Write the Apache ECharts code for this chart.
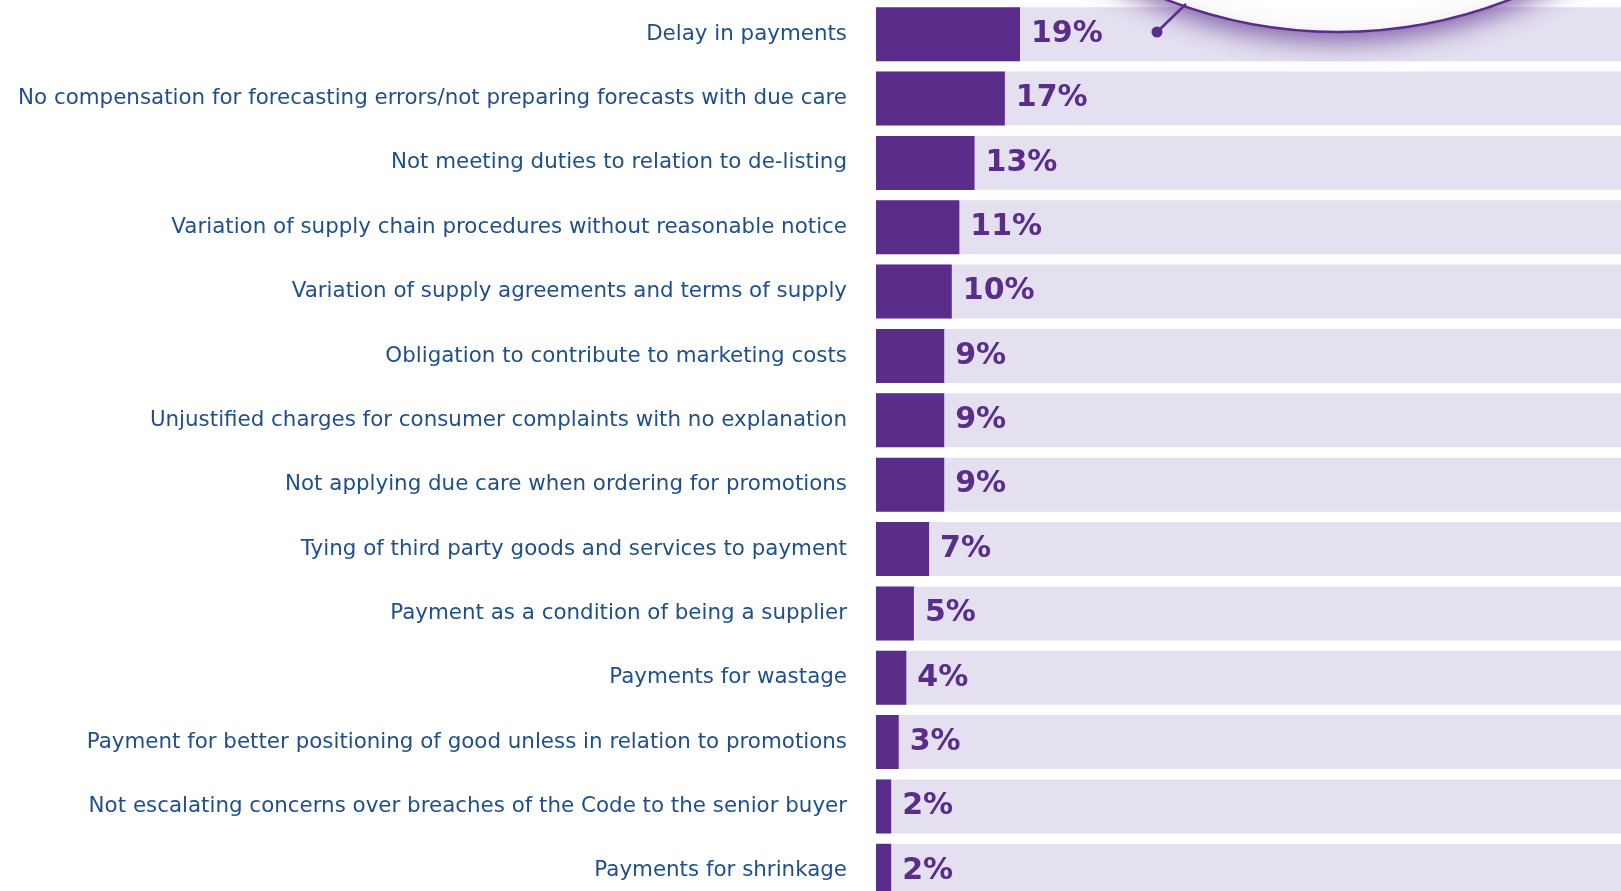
<!DOCTYPE html>
<html>
<head>
<meta charset="utf-8">
<script src="https://cdn.jsdelivr.net/npm/echarts@6/dist/echarts.min.js"></script>
<style>
  html, body { margin: 0; padding: 0; background: #fff; }
  #chart { width: 1621px; height: 891px; }
</style>
</head>
<body>
<div id="chart"></div>
<script>
var categories = [
  'Delay in payments',
  'No compensation for forecasting errors/not preparing forecasts with due care',
  'Not meeting duties to relation to de-listing',
  'Variation of supply chain procedures without reasonable notice',
  'Variation of supply agreements and terms of supply',
  'Obligation to contribute to marketing costs',
  'Unjustified charges for consumer complaints with no explanation',
  'Not applying due care when ordering for promotions',
  'Tying of third party goods and services to payment',
  'Payment as a condition of being a supplier',
  'Payments for wastage',
  'Payment for better positioning of good unless in relation to promotions',
  'Not escalating concerns over breaches of the Code to the senior buyer',
  'Payments for shrinkage'
];
var values = [19, 17, 13, 11, 10, 9, 9, 9, 7, 5, 4, 3, 2, 2];

var purple = '#5a2d8b';

var chart = echarts.init(document.getElementById('chart'));

chart.setOption({
  backgroundColor: '#ffffff',
  animation: false,
  grid: {
    left: 876, right: 0, top: 2, height: 901,
    containLabel: false,
    outerBoundsMode: 'none'
  },
  xAxis: {
    type: 'value',
    min: 0,
    max: 98.3,
    show: false
  },
  yAxis: {
    type: 'category',
    data: categories,
    inverse: true,
    axisLine: { show: false },
    axisTick: { show: false },
    axisLabel: {
      margin: 29,
      color: '#1f4f8c',
      fontFamily: 'DejaVu Sans, sans-serif',
      fontSize: 21.4
    }
  },
  series: [{
    type: 'bar',
    data: values,
    barWidth: 54,
    showBackground: true,
    backgroundStyle: { color: '#e4e0f0' },
    itemStyle: { color: purple },
    label: {
      show: true,
      position: 'right',
      distance: 11,
      formatter: '{c}%',
      color: purple,
      fontFamily: 'DejaVu Sans, sans-serif',
      fontWeight: 'bold',
      fontSize: 30
    }
  }],
  graphic: [
    {
      type: 'circle',
      z: 100,
      shape: { cx: 1338, cy: -440, r: 472 },
      style: {
        fill: '#ffffff',
        stroke: purple,
        lineWidth: 2.5,
        shadowBlur: 24,
        shadowOffsetY: 8,
        shadowColor: 'rgba(90,45,140,0.7)'
      }
    },
    {
      type: 'line',
      z: 101,
      shape: { x1: 1186, y1: 4, x2: 1157, y2: 32 },
      style: { stroke: purple, lineWidth: 2.5 }
    },
    {
      type: 'circle',
      z: 101,
      shape: { cx: 1157, cy: 32, r: 5.5 },
      style: { fill: purple }
    }
  ]
});
</script>
</body>
</html>
